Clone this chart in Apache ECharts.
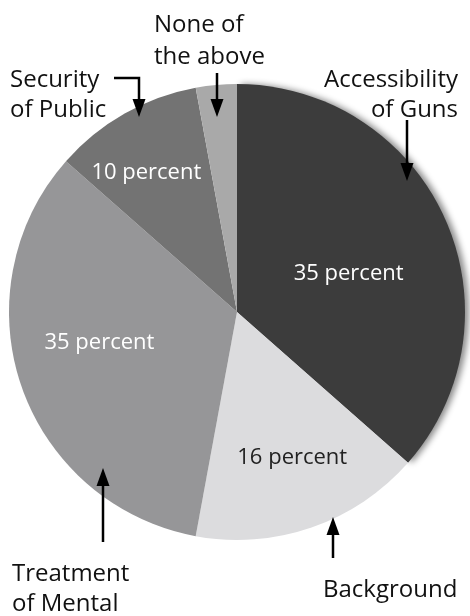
<!DOCTYPE html>
<html>
<head>
<meta charset="utf-8">
<script src="https://cdn.jsdelivr.net/npm/echarts@6/dist/echarts.min.js"></script>
<style>
html,body{margin:0;padding:0;background:#fff;}
#chart{width:470px;height:616px;}
</style>
</head>
<body>
<div id="chart"></div>
<script>
var categories = ['Accessibility of Guns', 'Background', 'Treatment of Mental', 'Security of Public', 'None of the above'];
var values = [36.5, 16.4, 33.6, 10.6, 2.9];
var sliceLabels = ['35 percent', '16 percent', '35 percent', '10 percent', ''];
var outerLabelLines = [
  ['Accessibility', 'of Guns'],
  ['Background'],
  ['Treatment', 'of Mental'],
  ['Security', 'of Public'],
  ['None of', 'the above']
];

// Styles
var colors = ['#3c3c3c', '#dcdcde', '#969698', '#737373', '#a9a9a9'];
var labelColors = ['#ffffff', '#222222', '#ffffff', '#ffffff', '#ffffff'];
var labelShift = [[5, 10], [17, 35], [-27, -8], [-33, -37], [0, 0]];
var FONT = '"Open Sans", "Noto Sans", sans-serif';

var chart = echarts.init(document.getElementById('chart'), null, {renderer: 'canvas'});

var pieData = categories.map(function (c, i) {
  var item = {
    name: c,
    value: values[i],
    itemStyle: {color: colors[i]},
    label: {color: labelColors[i], formatter: sliceLabels[i]}
  };
  if (i === 0) {
    item.itemStyle.shadowColor = 'rgba(0,0,0,0.45)';
    item.itemStyle.shadowBlur = 6;
    item.itemStyle.shadowOffsetX = 4;
  }
  return item;
});

// Outer annotation texts
var outerPos = [
  {x: 458, ys: [80, 110], align: 'right'},
  {x: 323, ys: [590], align: 'left'},
  {x: 12, ys: [574, 604], align: 'left'},
  {x: 10, ys: [80, 110], align: 'left'},
  {x: 154, ys: [25, 57], align: 'left'}
];
var graphics = [];
outerLabelLines.forEach(function (lines, i) {
  lines.forEach(function (t, j) {
    graphics.push({
      type: 'text', x: outerPos[i].x, y: outerPos[i].ys[j], z: 10,
      style: {text: t, font: '24px ' + FONT, fill: '#111', align: outerPos[i].align, verticalAlign: 'middle'}
    });
  });
});

function arrowDown(x, y0, tip) {
  graphics.push({type: 'line', z: 10, shape: {x1: x, y1: y0, x2: x, y2: tip - 14}, style: {stroke: '#000', lineWidth: 2.5}});
  graphics.push({type: 'polygon', z: 10, shape: {points: [[x - 6.5, tip - 18], [x + 6.5, tip - 18], [x, tip]]}, style: {fill: '#000'}});
}
function arrowUp(x, y0, tip) {
  graphics.push({type: 'line', z: 10, shape: {x1: x, y1: y0, x2: x, y2: tip + 14}, style: {stroke: '#000', lineWidth: 2.5}});
  graphics.push({type: 'polygon', z: 10, shape: {points: [[x - 6.5, tip + 18], [x + 6.5, tip + 18], [x, tip]]}, style: {fill: '#000'}});
}
// Security arrow (elbow)
graphics.push({type: 'polyline', z: 10, shape: {points: [[114, 78], [139, 78], [139, 103]]}, style: {stroke: '#000', lineWidth: 2.5, fill: null}});
graphics.push({type: 'polygon', z: 10, shape: {points: [[132.5, 99], [145.5, 99], [139, 117]]}, style: {fill: '#000'}});
arrowDown(217, 73, 117);
arrowDown(407, 120, 181);
arrowUp(333, 558, 517);
arrowUp(103, 542, 468);

chart.setOption({
  animation: false,
  backgroundColor: '#ffffff',
  series: [{
    type: 'pie',
    center: [237, 312],
    radius: 228,
    startAngle: 90,
    clockwise: true,
    avoidLabelOverlap: false,
    label: {
      show: true,
      position: 'inside',
      fontFamily: FONT,
      fontSize: 22
    },
    labelLine: {show: false},
    labelLayout: function (params) {
      var s = labelShift[params.dataIndex];
      return {dx: s[0], dy: s[1]};
    },
    emphasis: {disabled: true},
    itemStyle: {borderWidth: 0},
    data: pieData
  }],
  graphic: graphics
});
</script>
</body>
</html>
